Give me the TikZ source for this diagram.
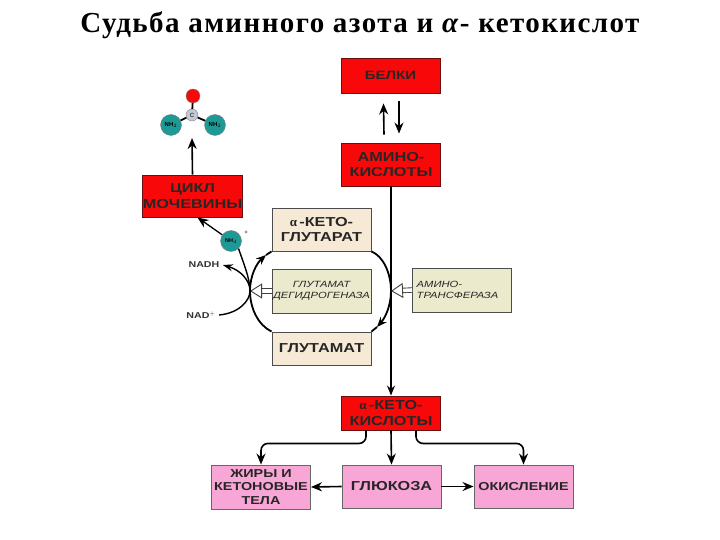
\documentclass[tikz,border=0pt]{standalone}
\usepackage{fontspec}
\setmainfont{Liberation Sans}
\newfontfamily\titlefont[LetterSpace=5]{Liberation Serif}
\newfontfamily\alphafont{Liberation Serif}
\newfontfamily\boxfont[FakeStretch=1.25]{Liberation Sans}
\usetikzlibrary{arrows.meta,calc}
\definecolor{ureaRed}{HTML}{F80808}
\definecolor{ureaDark}{HTML}{6A1010}
\definecolor{ketoCream}{HTML}{F6EAD6}
\definecolor{enzymeSage}{HTML}{ECEACC}
\definecolor{fatePink}{HTML}{F8A6D6}
\definecolor{atomTeal}{HTML}{1E9A96}
\definecolor{atomGray}{HTML}{C4C8D4}
\tikzset{
  box/.style={draw=ureaDark,line width=0.9pt,minimum width=99pt,inner sep=0pt,
              align=center,font=\boxfont\bfseries\fontsize{13}{15.5}\selectfont,text=black!85},
  redbox/.style={box,fill=ureaRed},
  ketobox/.style={box,fill=ketoCream,draw=black!70},
  enzymebox/.style={box,fill=enzymeSage,draw=black!70,
                    font=\boxfont\itshape\fontsize{9}{11}\selectfont},
  fatebox/.style={box,fill=fatePink,draw=black!60,font=\boxfont\bfseries\fontsize{11.5}{13.5}\selectfont},
  atom/.style={circle,draw=black!50,inner sep=0pt,minimum size=#1},
  smalltag/.style={font=\boxfont\bfseries\fontsize{8.5}{10}\selectfont,text=black!80},
  flow/.style={line width=1.6pt,-{Stealth[length=11pt,width=9pt]}},
  cycle/.style={line width=1.8pt},
  hollow/.style={double=white,double distance=3.6pt,line width=0.9pt,draw=black!75,
                 -{Triangle[open,fill=white,length=12pt,width=15pt]}}
}
\begin{document}
\begin{tikzpicture}[x=1pt,y=-1pt]
  \useasboundingbox (0,0) rectangle (720,540);
  \node[font=\titlefont\bfseries\fontsize{29}{32}\selectfont] (title) at (360,25)
    {Судьба аминного азота и \textit{α}- кетокислот};

  % top of the chart
  \node[redbox,minimum height=35pt,font=\boxfont\bfseries\fontsize{12}{14}\selectfont] (belki) at (390.5,75.5) {БЕЛКИ};
  \node[redbox,minimum height=43pt] (amino) at (391,164.5) {АМИНО-\\КИСЛОТЫ};
  \node[redbox,minimum height=42pt] (urea) at (192.5,196) {ЦИКЛ\\МОЧЕВИНЫ};

  % urea molecule
  \node[atom=14pt,fill=ureaRed] (oxy) at (193,96) {};
  \node[atom=12pt,fill=atomGray,font=\fontsize{6}{6}\selectfont] (carb) at (192,115) {C};
  \node[atom=21pt,fill=atomTeal,font=\bfseries\fontsize{6}{6}\selectfont] (nleft) at (171,125) {NH$_2$};
  \node[atom=21pt,fill=atomTeal,font=\bfseries\fontsize{6}{6}\selectfont] (nright) at (215,125) {NH$_2$};
  \draw[line width=1.8pt] (oxy) -- (carb);
  \draw[line width=1.8pt] (carb) -- (nleft);
  \draw[line width=1.8pt] (carb) -- (nright);
  \coordinate (ureaTop) at (192,138);
  \draw[flow] (urea.north) -- (ureaTop);

  % cycle boxes
  \node[ketobox,minimum height=43pt] (akg) at (321.5,229.5) {{\alphafont α}\,-КЕТО-\\ГЛУТАРАТ};
  \node[enzymebox,minimum height=44pt] (gdh) at (321.5,291) {ГЛУТАМАТ\\ДЕГИДРОГЕНАЗА};
  \node[ketobox,minimum height=33pt] (glu) at (321.5,348.5) {ГЛУТАМАТ};
  \node[enzymebox,minimum height=44pt,align=left] (ast) at (462,290) {АМИНО-\\ТРАНСФЕРАЗА\hspace*{9pt}};

  % bottom row
  \node[redbox,minimum height=34pt] (keto) at (391,413) {{\alphafont α}\,-КЕТО-\\КИСЛОТЫ};
  \node[fatebox,minimum height=44pt] (fats) at (261,487) {ЖИРЫ И\\КЕТОНОВЫЕ\\ТЕЛА};
  \node[fatebox,minimum height=43pt,font=\boxfont\bfseries\fontsize{13}{15}\selectfont] (gluc) at (391.5,486.5) {ГЛЮКОЗА};
  \node[fatebox,minimum height=43pt] (oxid) at (523.5,486.5) {ОКИСЛЕНИЕ};

  % proteins and amino acids
  \draw[flow] ($(amino.north)+(-7,-8)$) -- ($(belki.south)+(-7,10)$);
  \draw[flow,line width=1.1pt] ($(belki.south)+(8.5,8)$) -- ($(amino.north)+(8,-9)$);
  \draw[line width=1.3pt,-{Stealth[length=10pt,width=8pt]}] (amino.south) -- (keto.north);

  % cycle arcs
  \coordinate (leftArc) at (250,291);
  \coordinate (rightArc) at (391,291);
  \coordinate (leftTip) at (266,255);
  \coordinate (rightTip) at (377,327);
  \draw[cycle,-{Stealth[length=10pt,width=8pt]}] (glu.north west) .. controls (258,325) and (250,308) .. (leftArc)
    .. controls (250,275) and (257,263) .. (leftTip);
  \draw[cycle] (leftTip) -- (akg.south west);
  \draw[cycle,-{Stealth[length=10pt,width=8pt]}] (akg.south east) .. controls (383,256) and (391,273) .. (rightArc)
    .. controls (391,306) and (385,318) .. (rightTip);
  \draw[cycle] (rightTip) -- (glu.north east);
  \draw[hollow] (gdh.west) -- (leftArc);
  \draw[hollow] (ast.west) -- (rightArc);

  % ammonia and NAD
  \node[atom=21pt,fill=atomTeal,font=\bfseries\fontsize{5.5}{6}\selectfont] (nhf) at (231,241) {NH$_4$};
  \node[font=\fontsize{6}{6}\selectfont] (plus) at (246,233) {+};
  \node[smalltag] (nadh) at (204,265) {NADH};
  \node[smalltag] (nad) at (201,315) {NAD$^{+}$};
  \draw[flow,line width=1.3pt] (nhf) -- ($(urea.south)+(5,0)$);
  \draw[line width=1.4pt] (nhf.south east) .. controls (243,262) and (250,278) .. (leftArc);
  \draw[line width=1.4pt,-{Stealth[length=10pt,width=7pt]}] (nad.east) .. controls (240,313) and (250,300) .. (leftArc)
    .. controls (250,280) and (240,270) .. (nadh.east);

  % branches
  \draw[flow] (keto.south) -- (gluc.north);
  \draw[flow,rounded corners=7pt] ($(keto.south)+(-25,0)$) -- ++(0,13) -| (fats.north);
  \draw[flow,rounded corners=7pt] ($(keto.south)+(25,0)$) -- ++(0,13) -| (oxid.north);
  \draw[flow] (gluc.west) -- (fats.east);
  \draw[flow] (gluc.east) -- (oxid.west);
\end{tikzpicture}
\end{document}
